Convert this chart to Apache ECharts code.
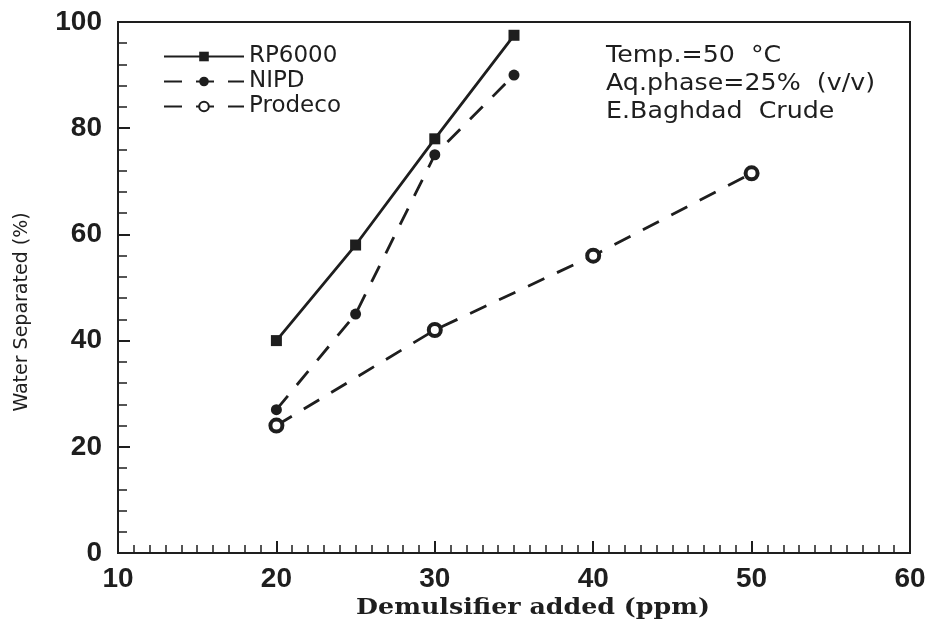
<!DOCTYPE html>
<html>
<head>
<meta charset="UTF-8">
<title>Water separated vs demulsifier</title>
<script type="text/javascript" src="https://cdn.jsdelivr.net/npm/echarts@6/dist/echarts.min.js"></script>
</head>
<body style="margin:0;background:#fff;">
    <div id="main" style="width: 931px;height:632px;"></div>
    <script type="text/javascript">
    // data
    var rp6000X = [20, 25, 30, 35];
    var rp6000Y = [40, 58, 78, 97.5];
    var nipdX = [20, 25, 30, 35];
    var nipdY = [27, 45, 75, 90];
    var prodecoX = [20, 30, 40, 50];
    var prodecoY = [24, 42, 56, 71.5];
    var notes = ['Temp.=50  \u00B0C', 'Aq.phase=25%  (v/v)', 'E.Baghdad  Crude'];

    function pairs(xs, ys) {
        var out = [];
        for (var i = 0; i < xs.length; i++) out.push([xs[i], ys[i]]);
        return out;
    }

    var ink = '#1e1e1e';
    var myChart = echarts.init(document.getElementById('main'));

    // side notes, axis titles drawn as text so they can be placed/stretched like the scan
    var gfx = notes.map(function (t, i) {
        return {
            type: 'text', x: 606, y: 45 + i * 28, scaleX: 1.1,
            style: { text: t, font: '23px "DejaVu Sans"', fill: ink }
        };
    });
    gfx.push({
        type: 'text', x: 533, y: 608, scaleX: 1.15,
        style: { text: 'Demulsifier added (ppm)', font: 'bold 22px "DejaVu Serif"', fill: ink,
                 align: 'center', verticalAlign: 'middle' }
    });
    gfx.push({
        type: 'text', x: 22, y: 312, rotation: Math.PI / 2,
        style: { text: 'Water Separated (%)', font: '19px "DejaVu Sans"', fill: ink,
                 align: 'center', verticalAlign: 'middle' }
    });

    var option = {
        backgroundColor: '#fff',
        animation: false,
        grid: {
            left: 118, right: 21, top: 22, bottom: 79,
            show: true, borderColor: ink, borderWidth: 2
        },
        legend: {
            orient: 'vertical',
            left: 158, top: 40,
            itemWidth: 80, itemHeight: 12, itemGap: 2,
            textStyle: { fontFamily: 'DejaVu Sans', fontSize: 23, color: ink },
            data: ['RP6000', 'NIPD', 'Prodeco']
        },
        xAxis: {
            type: 'value', min: 10, max: 60, interval: 10,
            axisLine: { lineStyle: { color: ink, width: 2 } },
            axisTick: { inside: true, length: 12, lineStyle: { color: ink, width: 2 } },
            minorTick: { show: true, splitNumber: 10, length: 8, lineStyle: { color: ink, width: 1.5 } },
            axisLabel: { margin: 12, fontFamily: 'Liberation Sans', fontWeight: 'bold', fontSize: 28, color: ink },
            splitLine: { show: false }
        },
        yAxis: {
            type: 'value', min: 0, max: 100, interval: 20,
            axisLine: { lineStyle: { color: ink, width: 2 } },
            axisTick: { inside: true, length: 12, lineStyle: { color: ink, width: 2 } },
            minorTick: { show: true, splitNumber: 5, length: 9, lineStyle: { color: ink, width: 1.5 } },
            axisLabel: { margin: 16, fontFamily: 'Liberation Sans', fontWeight: 'bold', fontSize: 28, color: ink },
            splitLine: { show: false }
        },
        graphic: gfx,
        series: [
            {
                name: 'RP6000', type: 'line',
                data: pairs(rp6000X, rp6000Y),
                symbol: 'rect', symbolSize: 11,
                itemStyle: { color: ink },
                lineStyle: { color: ink, width: 2.8 }
            },
            {
                name: 'NIPD', type: 'line',
                data: pairs(nipdX, nipdY),
                symbol: 'circle', symbolSize: 11,
                itemStyle: { color: ink },
                lineStyle: { color: ink, width: 2.8, type: [18, 14] }
            },
            {
                name: 'Prodeco', type: 'line',
                data: pairs(prodecoX, prodecoY),
                symbol: 'circle', symbolSize: 12,
                itemStyle: { color: '#fff', borderColor: ink, borderWidth: 4 },
                lineStyle: { color: ink, width: 2.8, type: [18, 14] }
            }
        ]
    };
    myChart.setOption(option);
    </script>
</body>
</html>
